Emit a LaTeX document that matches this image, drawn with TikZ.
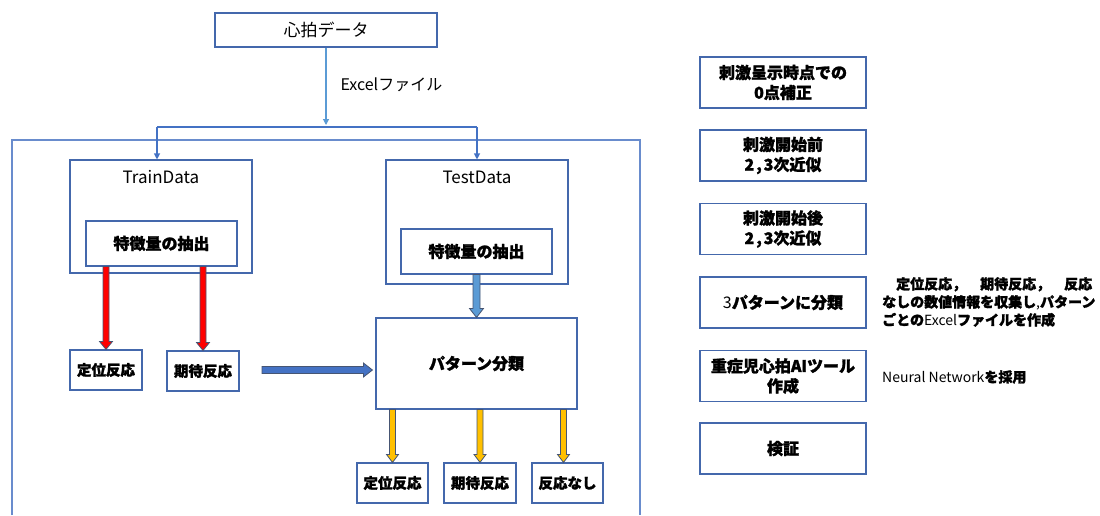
\documentclass[tikz,border=0pt]{standalone}
\usepackage{fontspec}
\setmainfont{Noto Sans CJK JP}[BoldFeatures={FakeBold=1.6}]
\usetikzlibrary{arrows.meta,calc}
\definecolor{boxc}{RGB}{68,104,172}
\definecolor{linec}{RGB}{91,155,213}
\definecolor{branchc}{RGB}{68,114,196}
\definecolor{outerc}{RGB}{105,140,205}
\definecolor{arrowout}{RGB}{70,85,115}
\definecolor{bluefill}{RGB}{68,114,196}
\definecolor{lbluefill}{RGB}{91,155,213}
\definecolor{yellowfill}{RGB}{255,192,0}
\tikzset{
  box/.style={draw=boxc, line width=1.1pt, inner sep=0pt, align=center, fill=white},
  lbl/.style={font=\fontsize{17}{20}\selectfont},
  blbl/.style={font=\bfseries\fontsize{16}{20}\selectfont},
  sblbl/.style={font=\bfseries\fontsize{14.5}{17}\selectfont},
  blockout/.style={draw=arrowout, line width=0.8pt, line join=miter},
  conn/.style={draw=branchc, line width=1.1pt},
  smallhead/.style={-{Triangle[width=6pt,length=6pt]}},
}
% vertical block arrow: x from end point, y of tail from start point
\newcommand\vblock[6]{%
  \draw[blockout,fill=#3] let \p1=(#1),\p2=(#2) in
    (\x2-#4,\y1) -- (\x2-#4,\y2+#6) -- (\x2-#5,\y2+#6) -- (\x2,\y2)
    -- (\x2+#5,\y2+#6) -- (\x2+#4,\y2+#6) -- (\x2+#4,\y1) -- cycle;}
% horizontal block arrow: y from start point
\newcommand\hblock[6]{%
  \draw[blockout,fill=#3] let \p1=(#1),\p2=(#2) in
    (\x1,\y1-#4) -- (\x2-#6,\y1-#4) -- (\x2-#6,\y1-#5) -- (\x2,\y1)
    -- (\x2-#6,\y1+#5) -- (\x2-#6,\y1+#4) -- (\x1,\y1+#4) -- cycle;}
\newcommand\hw[1]{\makebox[0.6em]{#1}}
\begin{document}
\begin{tikzpicture}[x=1pt,y=-1pt]
\useasboundingbox (0,0) rectangle (1100,515);

% outer frame (bottom cut off)
\coordinate (ofl) at (12,515);
\coordinate (ofr) at (640,515);
\draw[draw=outerc, line width=1.1pt] (ofl) -- (12,140) -- (640,140) -- (ofr);

% top source
\node[box, lbl, minimum width=222pt, minimum height=34pt] (src) at (326,30) {心拍データ};
\coordinate (br0) at (326,127);
\coordinate (br1) at (157,127);
\coordinate (br2) at (477,127);
\draw[draw=linec, line width=1.1pt, smallhead] (src.south) -- ([yshift=2pt]br0);
\node[lbl, font=\fontsize{16}{20}\selectfont, anchor=west] (xl) at (337,85) {Excelファイル};

% data boxes
\node[box, minimum width=182pt, minimum height=113pt] (train) at (161,216.5) {};
\node[lbl] (trainl) at (161,177) {TrainData};
\node[box, minimum width=182pt, minimum height=124pt] (test) at (477,222) {};
\node[lbl] (testl) at (477,177) {TestData};

\draw[conn] (br1) -- (br2);
\draw[conn, smallhead] (br1) -- (br1 |- train.north);
\draw[conn, smallhead] (br2) -- (br2 |- test.north);

\node[box, blbl, minimum width=151pt, minimum height=45pt] (feat1) at (161.5,243.5) {特徴量の抽出};
\node[box, blbl, minimum width=151pt, minimum height=45pt] (feat2) at (476.5,251.5) {特徴量の抽出};

\node[box, sblbl, minimum width=72pt, minimum height=40pt] (dp1) at (106,370) {定位反応};
\node[box, sblbl, minimum width=72pt, minimum height=40pt] (ex1) at (203,371) {期待反応};

\node[box, blbl, minimum width=201pt, minimum height=91pt] (ptn) at (476.5,363.5) {パターン分類};

\node[box, sblbl, minimum width=71pt, minimum height=40pt] (b1) at (392.5,483) {定位反応};
\node[box, sblbl, minimum width=72pt, minimum height=40pt] (b2) at (480,483) {期待反応};
\node[box, sblbl, minimum width=71pt, minimum height=40pt] (b3) at (567.5,483) {反応なし};

% block arrows
\vblock{feat1.south}{dp1.north}{red}{3pt}{6.5pt}{8pt}
\vblock{feat1.south}{ex1.north}{red}{3pt}{6.5pt}{8pt}
\vblock{feat2.south}{ptn.north}{lbluefill}{3.5pt}{7pt}{9pt}
\coordinate (hs) at (262,370);
\hblock{hs}{[xshift=-3pt]ptn.west}{bluefill}{3.5pt}{7pt}{9pt}
\vblock{ptn.south}{b1.north}{yellowfill}{3pt}{6pt}{8pt}
\vblock{ptn.south}{b2.north}{yellowfill}{3pt}{6pt}{8pt}
\vblock{ptn.south}{[xshift=-4pt]b3.north}{yellowfill}{3pt}{6pt}{8pt}

% right column
\tikzset{rbox/.style={box, blbl, minimum width=166pt, minimum height=51pt}}
\node[rbox] (r1) at (783,82.5) {刺激呈示時点での\\0点補正};
\node[rbox] (r2) at (783,155.5) {刺激開始前\\\hw{2}\hw{,}\hw{3}次近似};
\node[rbox] (r3) at (783,229) {刺激開始後\\\hw{2}\hw{,}\hw{3}次近似};
\node[rbox] (r4) at (783,302.5) {{\mdseries 3}パターンに分類};
\node[rbox] (r5) at (783,376) {重症児心拍AIツール\\作成};
\node[rbox] (r6) at (783,448.5) {検証};

\node[anchor=west, align=left, inner sep=0pt, font=\bfseries\fontsize{14}{18}\selectfont] (t4) at (882,302) {　定位反応，　期待反応，　反応\\なしの数値情報を収集し{\mdseries ,}パターン\\ごとの{\mdseries Excel}ファイルを作成};
\node[anchor=west, inner sep=0pt, font=\fontsize{14}{18}\selectfont] (t5) at (882,377) {Neural Network\textbf{を採用}};
\end{tikzpicture}
\end{document}
